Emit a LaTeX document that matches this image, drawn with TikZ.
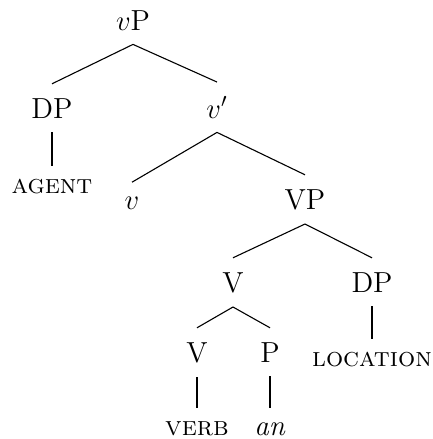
\documentclass[tikz,border=0pt]{standalone}
\usepackage{tikz}

\tikzset{
	cat/.style={anchor=base,inner sep=7pt,font=\fontsize{14.5}{17}\selectfont},
	leaf/.style={cat,text height=1.5ex,font=\fontsize{13.5}{16}\selectfont},
	branch/.style={line width=0.55pt}
}

\begin{document}
\begin{tikzpicture}[x=0.5pt,y=-0.5pt]
	\useasboundingbox (0,0) rectangle (433,439);
	% upper part of the tree
	\node[cat] (vP) at (133,30) {$v$P};
	\node[cat] (DPa) at (52,118) {DP};
	\node[cat] (vbar) at (217,118) {$v'$};
	\node[leaf] (agent) at (52,193) {\textsc{agent}};
	\node[cat] (v) at (132,209) {$v$};
	\node[cat] (VP) at (305,209) {VP};
	% VP and below
	\node[cat] (Va) at (233,292) {V};
	\node[cat] (DPb) at (372,292) {DP};
	\node[cat] (Vb) at (197,362) {V};
	\node[cat] (P) at (270,362) {P};
	\node[leaf] (location) at (372,366) {\textsc{location}};
	\node[leaf] (verb) at (197,435) {\textsc{verb}};
	\node[leaf,font=\fontsize{14.5}{17}\selectfont] (an) at (270,435) {\textit{an}};
	
	\draw[branch] (DPa.north) -- (vP.south) -- (vbar.north);
	\draw[branch] (DPa.south) -- (agent.north);
	\draw[branch] (v.north) -- (vbar.south) -- (VP.north);
	\draw[branch] (Va.north) -- (VP.south) -- (DPb.north);
	\draw[branch] (Vb.north) -- (Va.south) -- (P.north);
	\draw[branch] (DPb.south) -- (location.north);
	\draw[branch] (Vb.south) -- (verb.north);
	\draw[branch] (P.south) -- (an.north);
	
\end{tikzpicture}
\end{document}
